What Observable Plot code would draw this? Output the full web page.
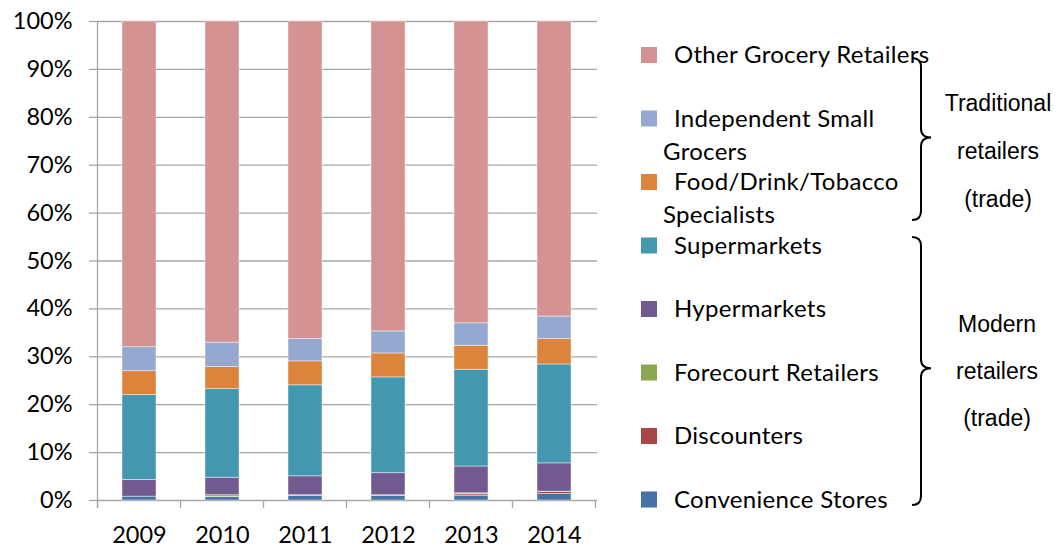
<!DOCTYPE html>
<html><head><meta charset="utf-8">
<script src="https://cdn.jsdelivr.net/npm/d3@7"></script>
<script src="https://cdn.jsdelivr.net/npm/@observablehq/plot@0.6"></script>
<style>
body{margin:0;background:#fff;}
#chart{width:1063px;height:547px;}
</style></head><body><div id="chart"></div>
<script>
const years = ["2009","2010","2011","2012","2013","2014"];
const categories = ["Convenience Stores","Discounters","Forecourt Retailers","Hypermarkets","Supermarkets","Food/Drink/Tobacco Specialists","Independent Small Grocers","Other Grocery Retailers"];
const convenienceStores = [0.8,0.7,0.95,0.95,1.0,1.35];
const discounters = [0.0,0.05,0.1,0.1,0.3,0.45];
const forecourtRetailers = [0.0,0.35,0.05,0.05,0.2,0.05];
const hypermarkets = [3.5,3.65,3.95,4.6,5.6,5.9];
const supermarkets = [17.7,18.5,19.0,20.0,20.2,20.65];
const foodDrinkTobacco = [5.0,4.6,5.0,5.0,5.0,5.3];
const independentSmallGrocers = [5.0,5.1,4.65,4.6,4.7,4.7];
const otherGroceryRetailers = [68.0,67.05,66.3,64.7,63.0,61.6];
const colors = ["#4572A7","#AA4644","#8AA64F","#72598F","#4398AF","#DC843C","#95A9D0","#D49392"];
const yTicks = [0,10,20,30,40,50,60,70,80,90,100];
const legendLabels = [["Other Grocery Retailers"],["Independent Small","Grocers"],["Food/Drink/Tobacco","Specialists"],["Supermarkets"],["Hypermarkets"],["Forecourt Retailers"],["Discounters"],["Convenience Stores"]];
const groupTraditional = ["Traditional","retailers","(trade)"];
const groupModern = ["Modern","retailers","(trade)"];

const series = [convenienceStores,discounters,forecourtRetailers,hypermarkets,supermarkets,foodDrinkTobacco,independentSmallGrocers,otherGroceryRetailers];
const rows = categories.flatMap((c,i)=>years.map((y,j)=>({category:c, year:y, value:series[i][j]})));

const grid = "#a6a6a6";
const plot = Plot.plot({
  width:1063, height:547,
  marginLeft:97, marginRight:466, marginTop:21, marginBottom:47,
  style:{fontFamily:"Lato, sans-serif", fontSize:"23.5px", color:"#000", background:"#fff", overflow:"visible"},
  x:{domain:years, paddingInner:0.59, paddingOuter:0.295, label:null},
  y:{domain:[0,100], label:null},
  color:{domain:categories, range:colors},
  marks:[
    Plot.ruleY(yTicks,{stroke:grid, strokeWidth:1.3}),
    Plot.barY(rows,{x:"year", y:"value", fill:"category", stroke:"#fff", strokeOpacity:0.55, strokeWidth:0.8}),
    Plot.axisY({ticks:yTicks, tickSize:8, tickPadding:17, tickFormat:d=>d+"%", stroke:grid, strokeWidth:1.3, fill:"#000", fontSize:23.5, label:null}),
    Plot.axisX({tickSize:0, tickPadding:26, fill:"#000", fontSize:23.5, label:null})
  ]
});
document.getElementById("chart").appendChild(plot);

const svg = d3.select(plot);
const xs = plot.scale("x"), ys = plot.scale("y");
const y0 = ys.apply(0), y1 = ys.apply(100);
const gap = (xs.step - xs.bandwidth)/2;
const bounds = years.map(y=>xs.apply(y)-gap).concat([xs.apply(years[years.length-1])+xs.bandwidth+gap]);
const g = svg.append("g");
g.append("line").attr("x1",bounds[0]).attr("x2",bounds[0]).attr("y1",y1).attr("y2",y0+8).attr("stroke",grid).attr("stroke-width",1.3);
bounds.forEach(b=>g.append("line").attr("x1",b).attr("x2",b).attr("y1",y0).attr("y2",y0+8).attr("stroke",grid).attr("stroke-width",1.3));

// legend
const lg = svg.append("g").style("font-family","Lato, sans-serif").style("font-size","24px").style("letter-spacing","0.3px").attr("fill","#000").attr("text-anchor","start");
const legendColors = colors.slice().reverse();
legendLabels.forEach((lines,i)=>{
  const cy = 55 + i*63.5;
  lg.append("rect").attr("x",641).attr("y",cy-8).attr("width",16).attr("height",16).attr("fill",legendColors[i]);
  lines.forEach((t,k)=>{
    lg.append("text").attr("x", k===0?674:663).attr("y", cy+8+k*33).text(t);
  });
});

// braces
function brace(top, bottom, x0, x1, xt){
  const r = 9;
  const m = top + (bottom-top)*0.49;
  return `M${x0},${top} Q${x1},${top} ${x1},${top+r} L${x1},${m-r} Q${x1},${m} ${xt},${m} Q${x1},${m} ${x1},${m+r} L${x1},${bottom-r} Q${x1},${bottom} ${x0},${bottom}`;
}
svg.append("path").attr("d",brace(58,220,912,921,931)).attr("fill","none").attr("stroke","#000").attr("stroke-width",2);
svg.append("path").attr("d",brace(237,505,912,921,931)).attr("fill","none").attr("stroke","#000").attr("stroke-width",2);
const ag = svg.append("g").style("font-family","'Liberation Sans', Arial, sans-serif").style("font-size","23px").attr("fill","#000").attr("text-anchor","middle");
groupTraditional.forEach((t,k)=>ag.append("text").attr("x",998).attr("y",111+k*48).text(t));
groupModern.forEach((t,k)=>ag.append("text").attr("x",997).attr("y",331.5+k*47).text(t));
</script></body></html>
